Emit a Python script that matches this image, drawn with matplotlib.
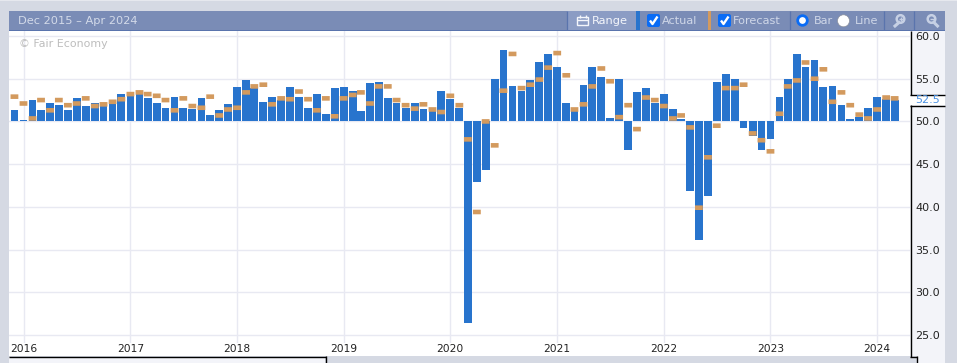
import datetime as dt
import matplotlib
matplotlib.use("Agg")
import matplotlib.pyplot as plt
import matplotlib.dates as mdates
from matplotlib.patches import Rectangle, Circle, FancyBboxPatch

# ---- data -----------------------------------------------------------------
actual = [51.3, 50.2, 52.5, 51.3, 52.2, 51.9, 51.3, 52.8, 51.8, 52.2, 51.8, 52.1,
          53.2, 53.5, 53.2, 52.7, 52.2, 51.6, 52.9, 51.6, 51.5, 52.8, 50.7, 51.3,
          52.0, 54.0, 54.8, 53.9, 52.3, 52.9, 52.5, 54.0, 52.9, 51.6, 53.2, 50.9,
          53.9, 54.0, 53.6, 51.2, 54.5, 54.6, 52.8, 52.1, 51.6, 52.2, 51.4, 51.2,
          53.6, 52.6, 51.6, 26.4, 42.9, 44.3, 55.0, 58.4, 54.2, 53.6, 54.9, 56.9,
          57.9, 56.4, 52.1, 51.2, 54.3, 56.4, 55.2, 50.35, 55.0, 46.65, 53.5, 53.9,
          52.2, 53.2, 51.5, 50.25, 41.85, 36.1, 41.3, 54.6, 55.6, 55.0, 49.2, 48.3,
          46.65, 47.95, 52.9, 55.0, 57.85, 56.4, 57.15, 54.0, 54.2, 51.9, 50.25, 50.5,
          51.6, 52.9, 52.6, 52.5]
forecast = [52.9, 52.1, 50.35, 52.5, 51.3, 52.5, 51.9, 52.1, 52.7, 51.8, 52.0, 52.3,
            52.6, 53.2, 53.4, 53.2, 53.0, 52.5, 51.3, 52.7, 51.8, 51.6, 52.9, 50.7,
            51.4, 51.6, 53.4, 54.1, 54.3, 52.0, 52.7, 52.6, 53.5, 52.6, 51.3, 52.7,
            50.6, 52.7, 53.1, 53.4, 52.1, 54.1, 54.1, 52.5, 51.9, 51.5, 52.0, 51.4,
            51.1, 53.0, 51.9, 47.9, 39.4, 50.0, 47.2, 53.6, 57.9, 53.9, 54.3, 54.9,
            56.3, 58.0, 55.4, 51.4, 52.0, 54.1, 56.2, 54.7, 50.5, 51.9, 49.1, 52.8,
            52.5, 51.8, 50.35, 50.7, 49.3, 39.9, 45.8, 49.5, 53.9, 53.9, 54.3, 48.6,
            47.8, 46.5, 50.9, 54.1, 54.8, 56.9, 55.0, 56.1, 52.3, 53.4, 51.9, 50.8,
            50.35, 51.4, 52.8, 52.7]
start_year, start_month = 2015, 12
year_ticks = [2016, 2017, 2018, 2019, 2020, 2021, 2022, 2023, 2024]
value_ticks = [60.0, 55.0, 50.0, 45.0, 40.0, 35.0, 30.0, 25.0]
latest_tick = 52.5
range_title = "Dec 2015 – Apr 2024"
watermark = "© Fair Economy"

# ---- styles ---------------------------------------------------------------
W, H = 957, 363
BG = "#d5d9e3"; TOOL = "#7a8cb6"; TOOL_LT = "#8b9cc4"; TOOL_DK = "#5a74ad"
BLUE = "#2874cd"; ORANGE = "#d39a5e"; GRID = "#e8e9f2"; PANEL = "#f3f4f9"; LABEL = "#cfd7e8"
FONT = "DejaVu Sans"
plt.rcParams["font.family"] = FONT

fig = plt.figure(figsize=(W / 100, H / 100), dpi=100, facecolor=BG)

# ---- page chrome, in pixel coordinates -------------------------------------
bg = fig.add_axes([0, 0, 1, 1], zorder=0)
bg.set_xlim(0, W); bg.set_ylim(H, 0); bg.axis("off")

def box(x0, y0, x1, y1, color, z=1):
    bg.add_patch(Rectangle((x0, y0), x1 - x0, y1 - y0, fc=color, ec="none", zorder=z))

def hline(x0, x1, y, color="black", lw=1.0):
    bg.plot([x0, x1], [y, y], color=color, lw=lw, zorder=5, solid_capstyle="butt")

def vline(x, y0, y1, color="black", lw=1.0):
    bg.plot([x, x], [y0, y1], color=color, lw=lw, zorder=5, solid_capstyle="butt")

box(0, 0, W, 1.2, "#e6e8ee")
box(9, 31, 910, 356, "white")
box(910, 31, 945, 363, PANEL)
box(9, 357, 325, 363, PANEL)
box(325.5, 356, 917, 363, BG)
box(9, 11, 945, 30, TOOL, 2)
box(9, 30, 945, 31, TOOL_DK, 2)
box(567, 11, 636, 30, TOOL_LT, 3)
box(636, 11, 640, 30, BLUE, 3)
box(707.5, 11, 711, 30, ORANGE, 3)
for xd in (567, 790, 884, 914):
    vline(xd, 11, 30, TOOL_DK, 0.9)
# axis panel outline
box(909.5, 95, 945, 105, "white", 3)
vline(910.5, 31, 94.5); vline(910.5, 105, 356.5)
hline(910, 945, 94.5); hline(910, 945, 105.5)
hline(910, 917, 356.5); vline(916.5, 356, 363)
hline(9, 326, 356.5); vline(325.5, 356, 363)

def toolbar_text(x, s, color=LABEL, size=8.1):
    bg.text(x, 20.7, s, color=color, fontsize=size, va="center", ha="left", zorder=6)

toolbar_text(18, range_title, "#d3dae9", 8.2)
toolbar_text(592, "Range", "#f4f6fb", 8.2)
toolbar_text(662, "Actual")
toolbar_text(733, "Forecast")
toolbar_text(814, "Bar")
toolbar_text(855, "Line")

# checkboxes
for xc in (647, 718):
    bg.add_patch(FancyBboxPatch((xc + 1, 15), 11, 11, boxstyle="round,pad=1,rounding_size=2",
                                fc="#0a6cf5", ec="none", zorder=6))
    bg.plot([xc + 3, xc + 5.5, xc + 10.5], [20.5, 24, 16.5], color="white", lw=1.7, zorder=7,
            solid_capstyle="butt")
# radio buttons
bg.add_patch(Circle((802.5, 20.5), 4.8, fc="white", ec="#0a6cf5", lw=2.0, zorder=6))
bg.add_patch(Circle((843.5, 20.8), 6.0, fc="white", ec="#8a8f9c", lw=0.5, zorder=6))
# calendar icon
bg.add_patch(Rectangle((577, 17), 10.5, 8, fc="none", ec="#f4f6fb", lw=1.0, zorder=6))
hline(577, 587.5, 19.5, "#f4f6fb", 1.0)
vline(579.5, 15, 18, "#f4f6fb", 1.0); vline(585.5, 15, 18, "#f4f6fb", 1.0)
# magnifier icons
for xm, plus in ((900, True), (931, False)):
    bg.add_patch(Circle((xm + 0.5, 19), 3.8, fc="none", ec="#c6d0e4", lw=1.8, zorder=6))
    if plus:
        bg.plot([xm - 1, xm - 5], [22.5, 26], color="#c6d0e4", lw=2.2, zorder=6)
        hline(xm - 1.5, xm + 2.5, 19, "#c6d0e4", 1.0); vline(xm + 0.5, 17, 21, "#c6d0e4", 1.0)
    else:
        bg.plot([xm + 3, xm + 6.5], [22.5, 26], color="#c6d0e4", lw=2.2, zorder=6)
        hline(xm - 1.5, xm + 2.5, 19, "#c6d0e4", 1.0)

# ---- chart ----------------------------------------------------------------
TOP, BOTTOM = 31, 343
ax = fig.add_axes([9 / W, 1 - BOTTOM / H, (910 - 9) / W, (BOTTOM - TOP) / H], zorder=2)
ax.patch.set_alpha(0)
for s in ax.spines.values():
    s.set_visible(False)

dates = []
y, m = start_year, start_month
for _ in actual:
    dates.append(dt.date(y, m, 1))
    m += 1
    if m > 12:
        y, m = y + 1, 1
xs = mdates.date2num(dates)

px_per_day = 106.7 / 365.25
px_per_unit = (335 - 36) / 35
x0 = mdates.date2num(dt.date(2016, 1, 1))
ax.set_xlim(x0 - (23.5 - 9) / px_per_day, x0 + (910 - 23.5) / px_per_day)
ax.set_ylim(60 - (BOTTOM - 36) / px_per_unit, 60 + (36 - TOP) / px_per_unit)

bar_w = 7.8 / px_per_day
fc_h = 4.6 / px_per_unit
ax.bar(xs, [v - 50 for v in actual], bottom=50, width=bar_w, color=BLUE, zorder=3, lw=0)
ax.bar(xs, [fc_h] * len(forecast), bottom=[f - fc_h / 2 for f in forecast], width=bar_w,
       color=ORANGE, zorder=4, lw=0, snap=False)

ax.set_axisbelow(True)
ax.set_xticks([mdates.date2num(dt.date(yr, 1, 1)) for yr in year_ticks])
ax.set_xticklabels([str(yr) for yr in year_ticks], fontsize=7.7, color="#222222")
ax.tick_params(axis="x", length=0, pad=1.0)
ax.set_yticks(value_ticks)
ax.set_yticklabels([f"{v:.1f}" for v in value_ticks], fontsize=8.0, color="#222222")
ax.yaxis.tick_right()
ax.tick_params(axis="y", length=0, pad=3.6)
ax.grid(True, color=GRID, lw=1.0)
ax.text(1 + 5 / (910 - 9), latest_tick, f"{latest_tick:.1f}", transform=ax.get_yaxis_transform(),
        color="#4a90e2", fontsize=8.0, va="center", ha="left", clip_on=False)
ax.text((19 - 9) / (910 - 9), 1 - (44 - TOP) / (BOTTOM - TOP), watermark, transform=ax.transAxes,
        color="#bdbdbd", fontsize=7.9, va="center", ha="left")

fig.savefig("out.png", dpi=100, facecolor=BG)
